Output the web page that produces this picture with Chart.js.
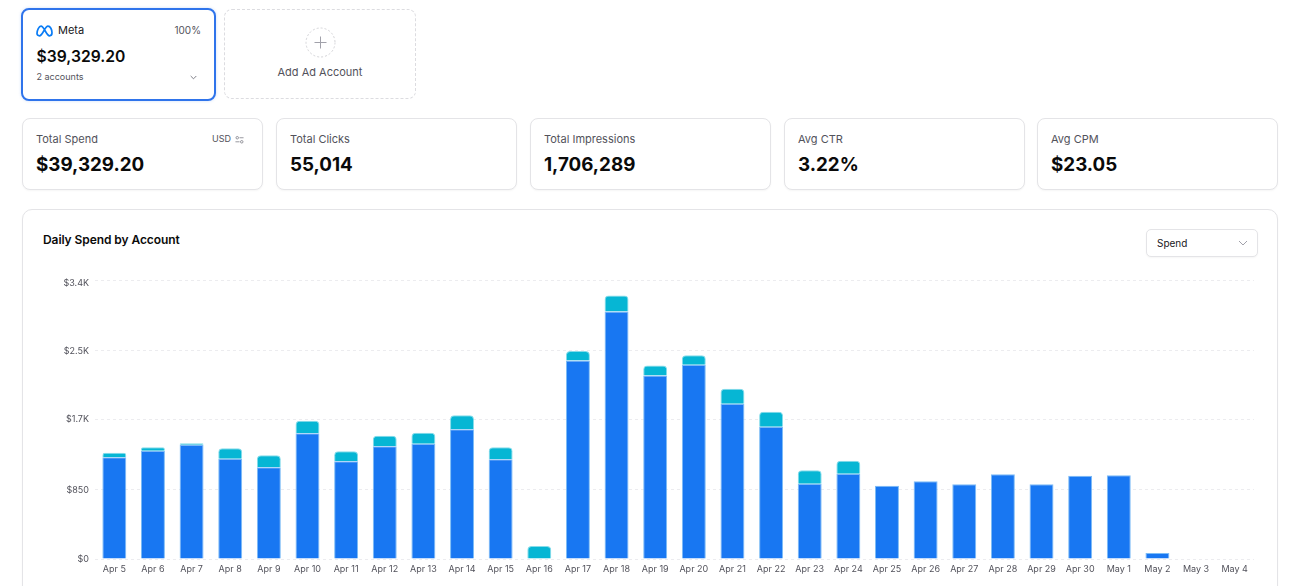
<!DOCTYPE html>
<html lang="en">
<head>
<meta charset="utf-8">
<title>Ad spend overview</title>
<script src="https://cdn.jsdelivr.net/npm/chart.js@4"></script>
<style>
  html, body { margin: 0; padding: 0; background: #fff; overflow: hidden; width: 1294px; height: 586px; }
  body { position: relative; font-family: Inter, "Noto Sans", sans-serif; color: #0a0a0a; -webkit-font-smoothing: antialiased; }
  .box { position: absolute; box-sizing: border-box; background: #fff; border: 1px solid #e4e4e7; border-radius: 8px; box-shadow: 0 1px 2px rgba(0,0,0,.04); }
  .t { position: absolute; white-space: nowrap; line-height: 1; }
  .kpi-label { left: 13px; top: 15px; font-size: 11px; color: #52525b; }
  .kpi-value { left: 13px; top: 36.500px; font-size: 18.800px; font-weight: 700; color: #0a0a0a; }
  svg { position: absolute; display: block; }
  #plot { position: absolute; left: 40px; top: 269px; width: 1214px; height: 311px; }
</style>
</head>
<body>
  <!-- Platform card -->
  <div class="box" style="left:21px;top:8px;width:195px;height:93px;border:2px solid #2f74eb;border-radius:8px;box-shadow:0 0 3px rgba(47,116,235,.25)">
    <svg style="left:13px;top:15px" width="17" height="12" viewBox="0 0 17 12" fill="none" stroke="#0a7cf5" stroke-width="1.7">
      <path d="M1 8.5C1 5 3 1.2 5 1.2c3 0 5.5 9.6 8.5 9.6 1.6 0 2.5-1.2 2.5-3C16 4.5 14.300 1.200 12 1.200 9 1.200 6.500 10.800 3.500 10.800 1.900 10.800 1 10 1 8.500Z"/>
    </svg>
    <div class="t" style="left:35px;top:15px;font-size:11px;font-weight:400;color:#18181b">Meta</div>
    <div class="t" style="right:13px;top:15px;font-size:10px;color:#52525b">100%</div>
    <div class="t" style="left:13.500px;top:39px;font-size:15.700px;font-weight:600">$39,329.20</div>
    <div class="t" style="left:13.500px;top:62px;font-size:9px;color:#52525b">2 accounts</div>
    <svg style="left:167px;top:65px" width="7" height="5" viewBox="0 0 7 5" fill="none" stroke="#71717a" stroke-width=".9"><path d="M.7 1l2.800 2.800L6.300 1"/></svg>
  </div>
  <div class="box" style="left:224px;top:9px;width:192px;height:90px;border:1px dashed #dcdce0;box-shadow:none">
    <svg style="left:80px;top:17px" width="31" height="31" viewBox="0 0 31 31" fill="none">
      <circle cx="15.500" cy="15.500" r="14.500" stroke="#d4d4d8" stroke-dasharray="2 2"/>
      <path d="M15.500 9.500v12M9.500 15.500h12" stroke="#a1a1aa" stroke-width="1"/>
    </svg>
    <div class="t" style="left:0;right:0;top:57px;text-align:center;font-size:11px;font-weight:400;color:#52525b">Add Ad Account</div>
  </div>

  <!-- Summary metrics -->
  <div class="box" style="left:22px;top:118px;width:241px;height:72px">
    <div class="t kpi-label">Total Spend</div>
    <div class="t" style="left:189px;top:15px;font-size:9px;color:#52525b">USD</div>
    <svg style="left:212px;top:16px" width="9" height="10" viewBox="0 0 10 10" fill="none" stroke="#71717a" stroke-width=".8">
      <circle cx="2.500" cy="2.500" r="1.400"/><path d="M5 2.500h4.500M.5 7h4.500"/><circle cx="7.500" cy="7" r="1.400"/>
    </svg>
    <div class="t kpi-value">$39,329.20</div>
  </div>
  <div class="box" style="left:276px;top:118px;width:241px;height:72px">
    <div class="t kpi-label">Total Clicks</div><div class="t kpi-value">55,014</div>
  </div>
  <div class="box" style="left:530px;top:118px;width:241px;height:72px">
    <div class="t kpi-label">Total Impressions</div><div class="t kpi-value">1,706,289</div>
  </div>
  <div class="box" style="left:784px;top:118px;width:241px;height:72px">
    <div class="t kpi-label">Avg CTR</div><div class="t kpi-value">3.22%</div>
  </div>
  <div class="box" style="left:1037px;top:118px;width:241px;height:72px">
    <div class="t kpi-label">Avg CPM</div><div class="t kpi-value">$23.05</div>
  </div>

  <!-- Chart panel -->
  <div class="box" style="left:22px;top:209px;width:1256px;height:420px;border-radius:10px"></div>
  <div class="t" style="left:43px;top:234px;font-size:12px;font-weight:600;letter-spacing:-.08px;color:#0a0a0a">Daily Spend by Account</div>
  <div class="box" style="left:1146px;top:229px;width:112px;height:28px;border-radius:5px">
    <div class="t" style="left:10px;top:8px;font-size:10px;color:#18181b">Spend</div>
    <svg style="left:91px;top:10px" width="10" height="6" viewBox="0 0 10 6" fill="none" stroke="#a1a1aa" stroke-width="1"><path d="M1 1l4 4 4-4"/></svg>
  </div>
  <canvas id="plot" width="1214" height="311"></canvas>

<script>
const days = ["Apr 5","Apr 6","Apr 7","Apr 8","Apr 9","Apr 10","Apr 11","Apr 12","Apr 13","Apr 14","Apr 15","Apr 16","Apr 17","Apr 18","Apr 19","Apr 20","Apr 21","Apr 22","Apr 23","Apr 24","Apr 25","Apr 26","Apr 27","Apr 28","Apr 29","Apr 30","May 1","May 2","May 3","May 4"];
const accountOne = [1241,1321,1394,1223,1119,1535,1192,1376,1406,1584,1217,0,2421,3021,2238,2372,1895,1614,917,1039,893,948,911,1033,911,1015,1021,73,0,0];
const accountTwo = [55,43,20,128,147,153,122,128,135,171,147,159,116,196,122,116,183,183,165,159,0,0,0,0,0,0,0,0,0,0];
const yTicks = [0,850,1700,2550,3400];
// Small vertical nudges for the y labels, lowest tick first
const yLabelNudge = [0,0.5,0,1,3];

const money = v => v >= 1000 ? "$" + (v / 1000).toFixed(1) + "K" : "$" + v;

const nudgeLabels = {
  id: "nudgeLabels",
  beforeDraw(chart) {
    chart.scales.y.getLabelItems().forEach((item, i) => {
      if (!item.nudged) {
        item.options.translation[1] += yLabelNudge[i] || 0;
        item.nudged = true;
      }
    });
  }
};

new Chart(document.getElementById("plot"), {
  type: "bar",
  data: {
    labels: days,
    datasets: [
      { label: "Account 1", data: accountOne, backgroundColor: "#1877f2", borderColor: "#7cbcf6", borderWidth: { top: 1, left: 1, right: 1, bottom: 0 }, borderSkipped: false, stack: "spend", barPercentage: 0.62, categoryPercentage: 1 },
      { label: "Account 2", data: accountTwo, backgroundColor: "#06b6d4", borderColor: "#86dcea", borderWidth: { top: 1, left: 1, right: 1, bottom: 0 }, borderSkipped: false, borderRadius: { topLeft: 4, topRight: 4 }, stack: "spend", barPercentage: 0.62, categoryPercentage: 1 }
    ]
  },
  options: {
    responsive: false,
    animation: false,
    devicePixelRatio: 1,
    layout: { padding: { top: 0, right: 0, bottom: 0, left: 0 } },
    plugins: { legend: { display: false }, tooltip: { enabled: false } },
    scales: {
      x: {
        stacked: true,
        border: { display: false },
        grid: { display: false },
        afterFit(scale) { scale.height = 21; },
        ticks: { color: "#52525b", font: { family: "Inter", size: 9 }, maxRotation: 0, autoSkip: false, padding: -3 }
      },
      y: {
        stacked: true,
        min: 0,
        max: 3400,
        border: { display: false, dash: [3, 3] },
        grid: { color: "#ececef", lineWidth: 1, drawTicks: false },
        afterBuildTicks(scale) { scale.ticks = yTicks.map(value => ({ value })); },
        afterFit(scale) { scale.width = 55; },
        ticks: { color: "#52525b", font: { family: "Inter", size: 9 }, padding: 6, callback: money }
      }
    }
  },
  plugins: [nudgeLabels]
});
</script>
</body>
</html>
